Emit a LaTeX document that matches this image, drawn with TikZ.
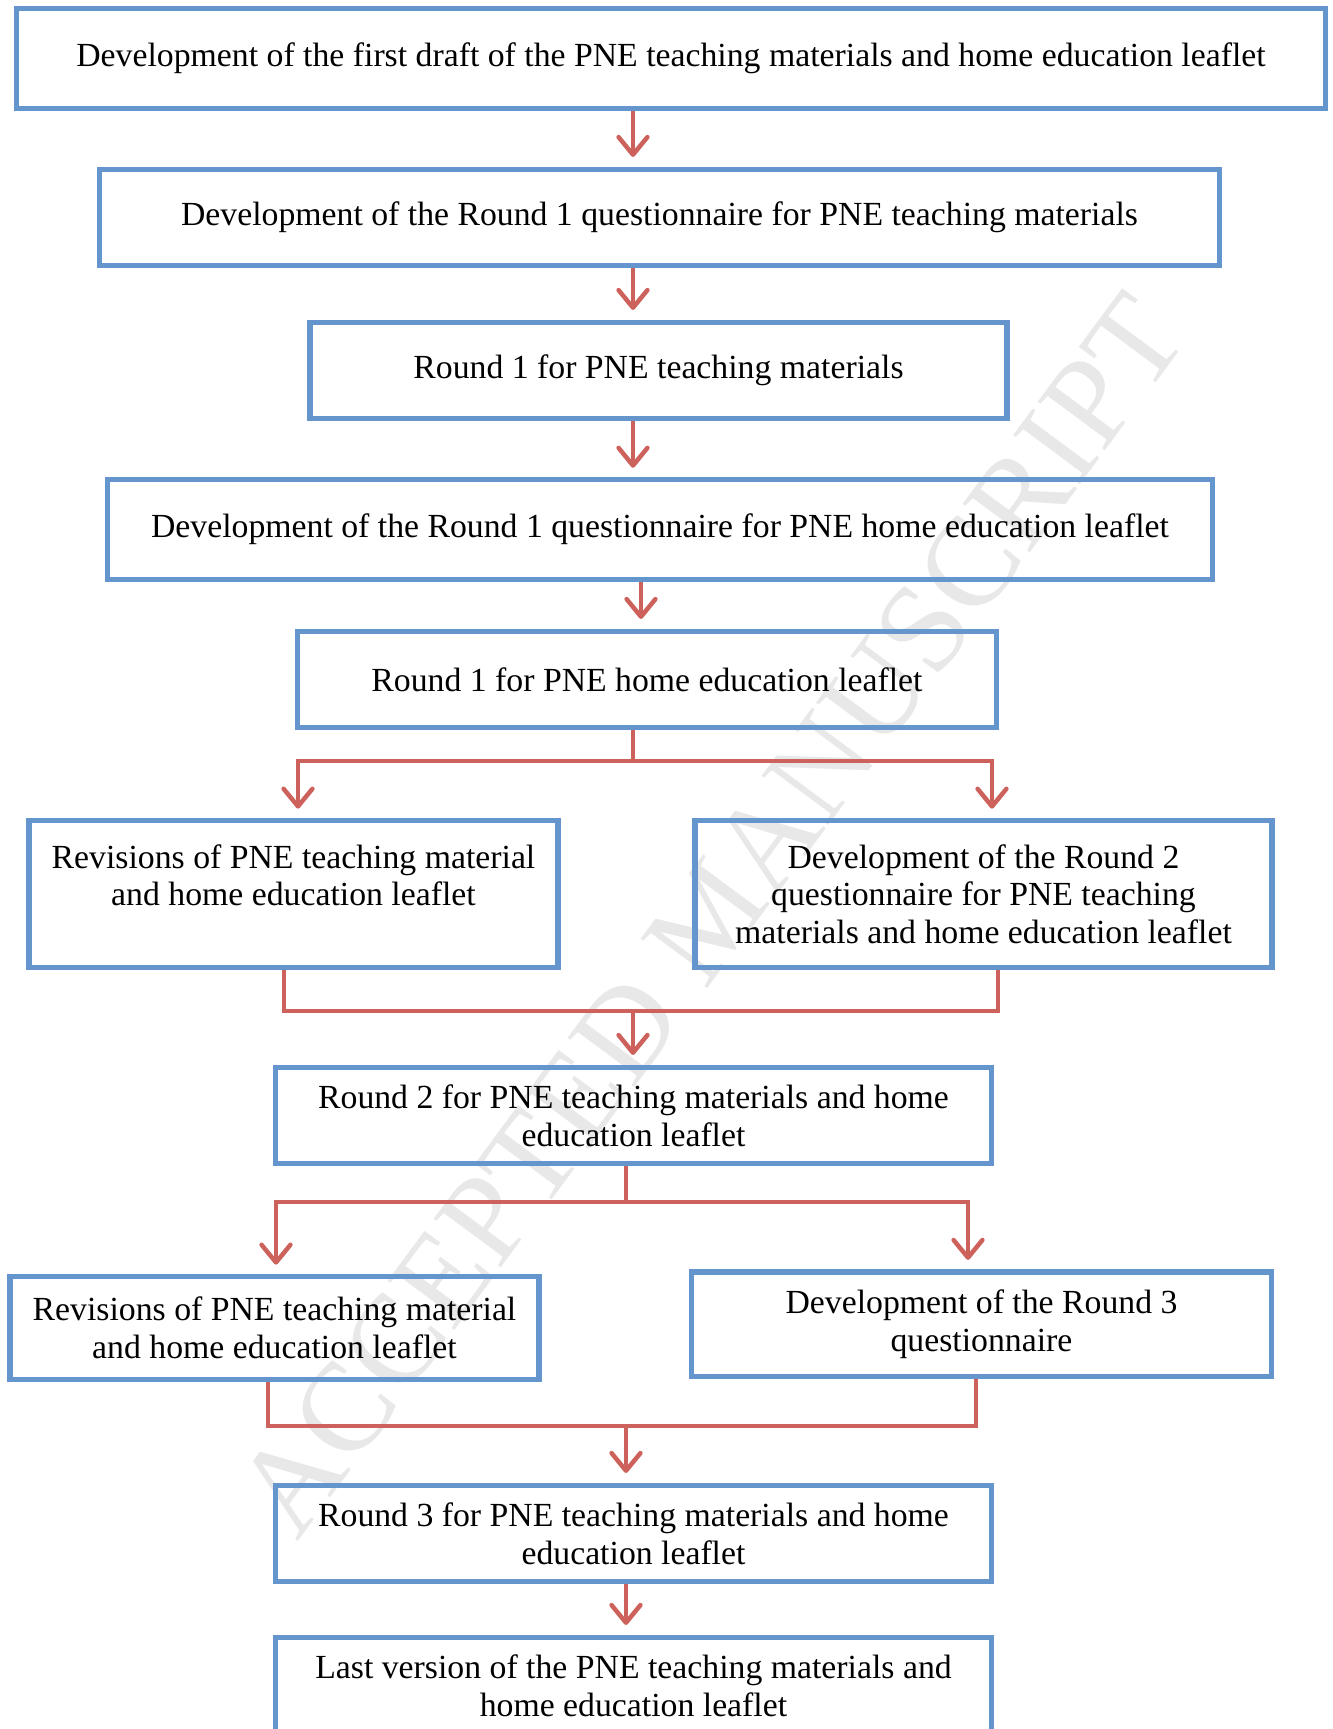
\documentclass[tikz,border=0pt]{standalone}
\usepackage{fontspec}
\setmainfont{Liberation Serif}
\usepackage{xcolor}
\usepackage{tikz}
\usetikzlibrary{arrows.meta, calc}

\definecolor{boxblue}{RGB}{100,150,205}
\definecolor{arrred}{RGB}{205,98,92}

\begin{document}
\begin{tikzpicture}[
    x=0.0125cm, y=-0.0125cm,
    stage/.style={rectangle, draw=boxblue, line width=1.8pt, align=center, inner sep=2pt,
                  font=\fontsize{12}{13.4}\selectfont},
    link/.style={draw=arrred, line width=1.6pt},
    arr/.style={link, -{Straight Barb[length=2.2mm, width=3.6mm, round]}, shorten >=1.2mm},
    wmark/.style={text=black!9, font=\fontsize{45}{45}\selectfont, rotate=53.5}
]
\useasboundingbox (0,0) rectangle (1332,1729);

% watermark
\node[wmark] (wm) at (711,915) {ACCEPTED MANUSCRIPT};

% stages
\node[stage, minimum width=16.36cm, minimum height=1.24cm] (b1) at (671,58.5)
    {Development of the first draft of the PNE teaching materials and home education leaflet};
\node[stage, minimum width=13.99cm, minimum height=1.21cm] (b2) at (659.5,217.5)
    {Development of the Round 1 questionnaire for PNE teaching materials};
\node[stage, minimum width=8.71cm, minimum height=1.21cm] (b3) at (658.5,370.5)
    {Round 1 for PNE teaching materials};
\node[stage, minimum width=13.8cm, minimum height=1.24cm] (b4) at (660,529.5)
    {Development of the Round 1 questionnaire for PNE home education leaflet};
\node[stage, minimum width=8.73cm, minimum height=1.21cm] (b5) at (647,679.5)
    {Round 1 for PNE home education leaflet};
\node[stage, minimum width=6.61cm, minimum height=1.83cm] (b6l) at (293.5,894)
    {Revisions of PNE teaching material\\ and home education leaflet\\ \mbox{}};
\node[stage, minimum width=7.21cm, minimum height=1.83cm] (b6r) at (983.5,894)
    {Development of the Round 2\\ questionnaire for PNE teaching\\ materials and home education leaflet};
\node[stage, minimum width=8.94cm, minimum height=1.21cm] (b7) at (633.5,1115.5)
    {Round 2 for PNE teaching materials and home\\ education leaflet};
\node[stage, minimum width=6.61cm, minimum height=1.28cm] (b8l) at (274.5,1328)
    {Revisions of PNE teaching material\\ and home education leaflet};
\node[stage, minimum width=7.24cm, minimum height=1.3cm] (b8r) at (981.5,1324)
    {Development of the Round 3\\ questionnaire};
\node[stage, minimum width=8.94cm, minimum height=1.21cm] (b9) at (633.5,1533.5)
    {Round 3 for PNE teaching materials and home\\ education leaflet};
\node[stage, minimum width=8.94cm, minimum height=1.21cm] (b10) at (633.5,1685.5)
    {Last version of the PNE teaching materials and\\ home education leaflet};

% spine and junction points
\coordinate (sp1) at (633,0);
\coordinate (sp2) at (641,0);
\coordinate (sp3) at (626,0);
\coordinate (s5l) at (298,761);
\coordinate (s5r) at (992,761);
\coordinate (m6l) at (284,1011);
\coordinate (m6r) at (998,1011);
\coordinate (s7l) at (276,1202);
\coordinate (s7r) at (968,1202);
\coordinate (m8l) at (268,1426);
\coordinate (m8r) at (976,1426);

% straight arrows
\draw[arr] (b1.south -| sp1) -- (b2.north -| sp1);
\draw[arr] (b2.south -| sp1) -- (b3.north -| sp1);
\draw[arr] (b3.south -| sp1) -- (b4.north -| sp1);
\draw[arr] (b4.south -| sp2) -- (b5.north -| sp2);

% split after round 1
\draw[link] (b5.south -| sp1) -- (sp1 |- s5l);
\draw[arr] (sp1 |- s5l) -| (b6l.north -| s5l);
\draw[arr] (sp1 |- s5r) -| (b6r.north -| s5r);

% merge into round 2
\draw[link] (b6l.south -| m6l) -- (m6l) -- (m6r) -- (b6r.south -| m6r);
\draw[arr] (sp1 |- m6l) -- (b7.north -| sp1);

% split after round 2
\draw[link] (b7.south -| sp3) -- (sp3 |- s7l);
\draw[arr] (sp3 |- s7l) -| (b8l.north -| s7l);
\draw[arr] (sp3 |- s7r) -| (b8r.north -| s7r);

% merge into round 3
\draw[link] (b8l.south -| m8l) -- (m8l) -- (m8r) -- (b8r.south -| m8r);
\draw[arr] (sp3 |- m8l) -- (b9.north -| sp3);
\draw[arr] (b9.south -| sp3) -- (b10.north -| sp3);

\end{tikzpicture}
\end{document}
